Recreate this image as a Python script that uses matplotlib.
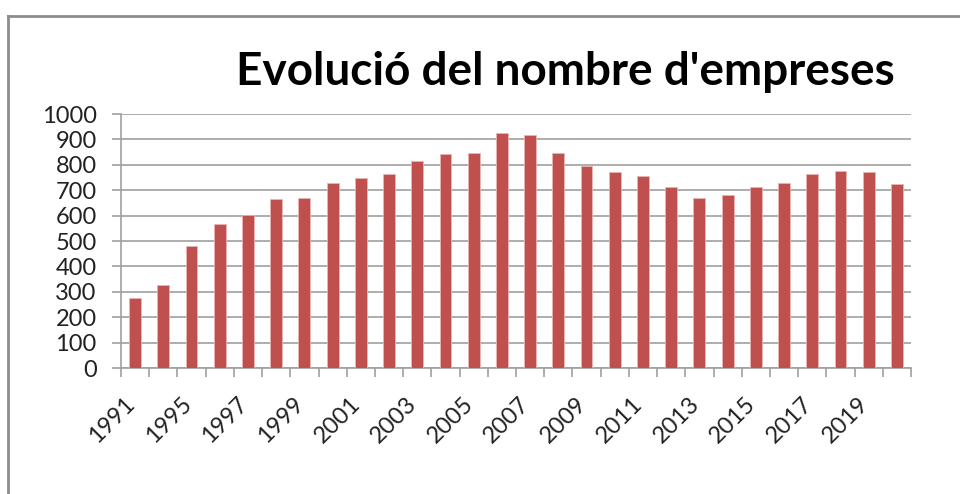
import matplotlib.pyplot as plt
from matplotlib.lines import Line2D

# Dades
years = ["1991", "1994", "1995", "1996", "1997", "1998", "1999", "2000",
         "2001", "2002", "2003", "2004", "2005", "2006", "2007", "2008",
         "2009", "2010", "2011", "2012", "2013", "2014", "2015", "2016",
         "2017", "2018", "2019", "2020"]
empreses = [275, 326, 482, 567, 602, 664, 668, 729, 750, 764, 814, 841,
            845, 925, 916, 845, 796, 770, 754, 714, 668, 683, 714, 729,
            764, 775, 771, 723]
yticks = [0, 100, 200, 300, 400, 500, 600, 700, 800, 900, 1000]

plt.rcParams.update({
    "font.family": ["Lato", "DejaVu Sans"],
    "font.size": 17,
})

grey = "#a0a0a0"

fig = plt.figure(figsize=(9.6, 4.94), dpi=100)
ax = fig.add_axes([121/960, 1 - 368/494, (911 - 121)/960, (368 - 114)/494])

x = list(range(len(years)))
ax.bar(x, empreses, width=0.42, color="#c0504d", edgecolor="#e8b4b2",
       linewidth=0.6, zorder=3)

ax.set_xlim(-0.5, len(years) - 0.5)
ax.set_ylim(0, 1000)
ax.set_yticks(yticks)
ax.set_yticklabels([str(v) for v in yticks], color="#222222", fontsize=17)
ax.grid(axis="y", color=grey, linewidth=1.2, zorder=0)

# marques entre categories a l'eix x
ax.set_xticks([i - 0.5 for i in range(len(years) + 1)])
ax.set_xticklabels([])
ax.tick_params(axis="x", length=6.5, color=grey, width=1.2, direction="out")
ax.tick_params(axis="y", length=6.5, color=grey, width=1.2, pad=11)

for s in ["top", "right"]:
    ax.spines[s].set_visible(False)
for s in ["left", "bottom"]:
    ax.spines[s].set_color(grey)
    ax.spines[s].set_linewidth(1.2)

# etiquetes d'anys, una de cada dues
for i in range(0, len(years), 2):
    ax.annotate(years[i], xy=(i, 0), xycoords=("data", "axes fraction"),
                xytext=(-8, -18), textcoords="offset points",
                rotation=45, ha="right", va="top", rotation_mode="anchor",
                fontsize=17, color="#222222")

fig.text(565/960, 1 - 72/494, "Evolució del nombre d'empreses",
         ha="center", va="center", fontsize=33, fontweight="bold")

# marc del gràfic
fig.add_artist(Line2D([8/960, 8/960], [0, 1 - 16/494],
                      transform=fig.transFigure, color="#8c8c8c", linewidth=2))
fig.add_artist(Line2D([8/960, 1], [1 - 16/494, 1 - 16/494],
                      transform=fig.transFigure, color="#8c8c8c", linewidth=2))

fig.savefig("out.png", dpi=100)
